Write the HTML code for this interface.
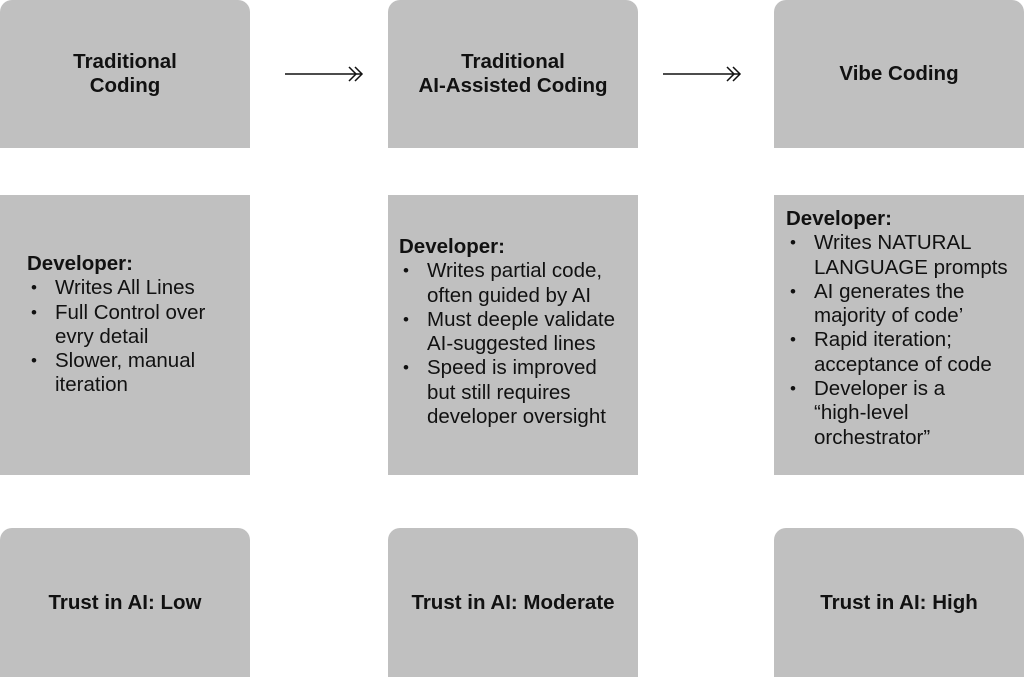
<!DOCTYPE html>
<html><head><style>
body{margin:0;width:1024px;height:677px;background:#fff;position:relative;font-family:"Liberation Sans",sans-serif;color:#111;overflow:hidden}
.b{position:absolute;background:#c0c0c0;width:250px}
.c0{left:0}.c1{left:388px}.c2{left:774px}
.top{top:0;height:148px;border-radius:12px 12px 0 0}
.mid{top:195px;height:280px}
.bot{top:528px;height:149px;border-radius:12px 12px 0 0}
.ctr{display:flex;align-items:center;justify-content:center;text-align:center;font-weight:bold;font-size:20.5px;line-height:24px}
.t{position:absolute;font-size:20.5px;line-height:24.3px;white-space:nowrap}
.t ul{margin:0;padding:0;list-style:none}
.t li{position:relative;padding-left:28px}
.t li:before{content:"•";position:absolute;left:4px;font-size:17px}
</style></head><body>
<div class="b c0 top ctr">Traditional<br>Coding</div>
<div class="b c1 top ctr">Traditional<br>AI-Assisted Coding</div>
<div class="b c2 top ctr">Vibe Coding</div>
<div class="b c0 mid"></div><div class="b c1 mid"></div><div class="b c2 mid"></div>
<div class="b c0 bot ctr">Trust in AI: Low</div>
<div class="b c1 bot ctr">Trust in AI: Moderate</div>
<div class="b c2 bot ctr">Trust in AI: High</div>
<svg style="position:absolute;left:0;top:0" width="1024" height="200">
<g stroke="#111" stroke-width="1.5" fill="none">
<line x1="285" y1="74" x2="361" y2="74"/><polyline points="349,67 356,74 349,81"/><polyline points="355,67 362,74 355,81"/>
<line x1="663" y1="74" x2="739" y2="74"/><polyline points="727,67 734,74 727,81"/><polyline points="733,67 740,74 733,81"/>
</g></svg>
<div class="t" style="left:27px;top:252px"><b>Developer:</b><ul><li>Writes All Lines</li><li>Full Control over<br>evry detail</li><li>Slower, manual<br>iteration</li></ul></div>
<div class="t" style="left:399px;top:235px"><b>Developer:</b><ul><li>Writes partial code,<br>often guided by AI</li><li>Must deeple validate<br>AI-suggested lines</li><li>Speed is improved<br>but still requires<br>developer oversight</li></ul></div>
<div class="t" style="left:786px;top:207px"><b>Developer:</b><ul><li>Writes NATURAL<br>LANGUAGE prompts</li><li>AI generates the<br>majority of code’</li><li>Rapid iteration;<br>acceptance of code</li><li>Developer is a<br>“high-level<br>orchestrator”</li></ul></div>
</body></html>
